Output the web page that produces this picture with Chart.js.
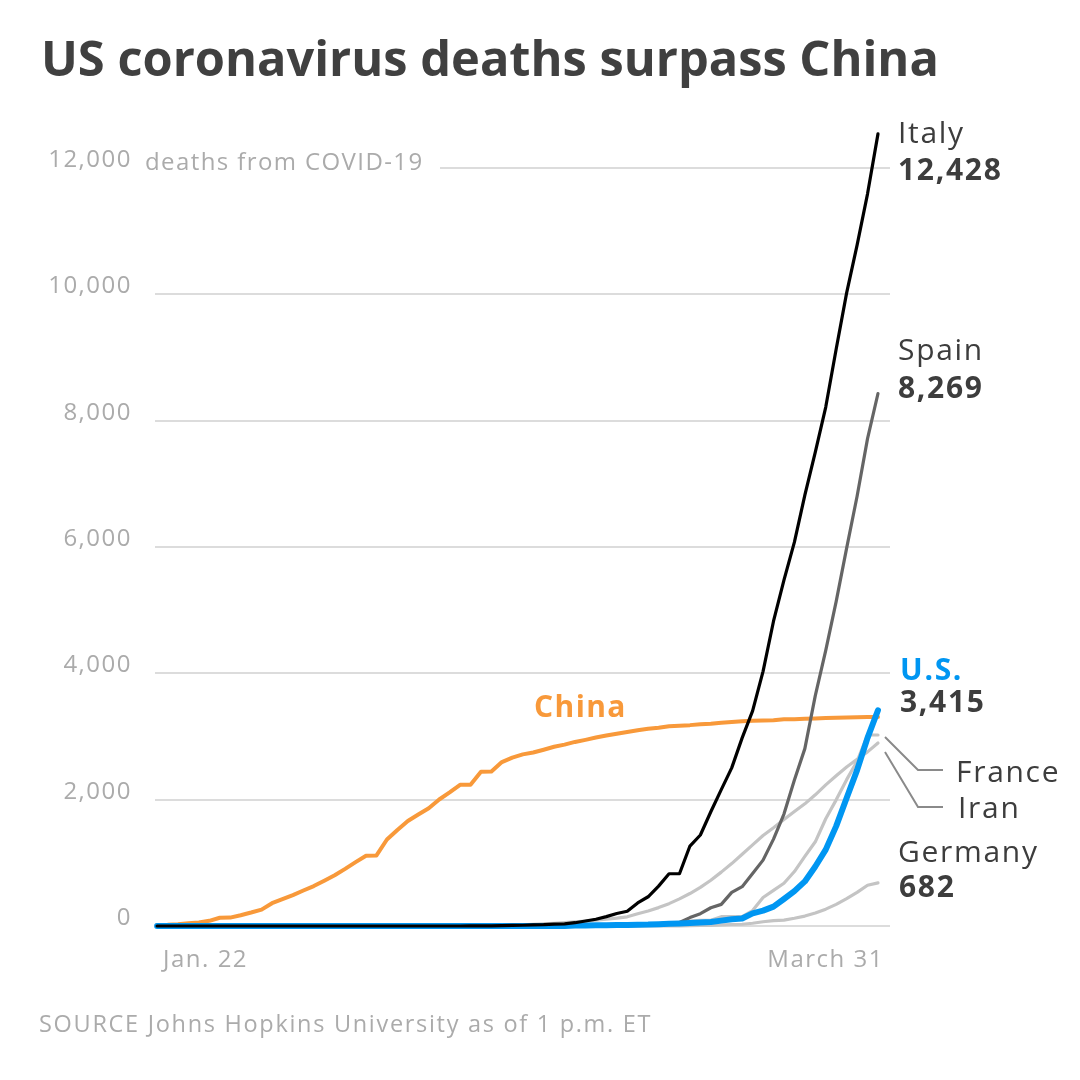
<!DOCTYPE html>
<html>
<head>
<meta charset="utf-8">
<script src="https://cdn.jsdelivr.net/npm/chart.js@4.4.1/dist/chart.umd.min.js"></script>
<style>
html,body{margin:0;padding:0;background:#ffffff;}
#wrap{width:1080px;height:1080px;position:relative;}
</style>
</head>
<body>
<div id="wrap"><canvas id="c" width="1080" height="1080"></canvas></div>
<script>
// ---- categories (days, Jan 22 .. Mar 31) ----
const dates = [
 "1/22","1/23","1/24","1/25","1/26","1/27","1/28","1/29","1/30","1/31",
 "2/1","2/2","2/3","2/4","2/5","2/6","2/7","2/8","2/9","2/10",
 "2/11","2/12","2/13","2/14","2/15","2/16","2/17","2/18","2/19","2/20",
 "2/21","2/22","2/23","2/24","2/25","2/26","2/27","2/28","2/29",
 "3/1","3/2","3/3","3/4","3/5","3/6","3/7","3/8","3/9","3/10",
 "3/11","3/12","3/13","3/14","3/15","3/16","3/17","3/18","3/19","3/20",
 "3/21","3/22","3/23","3/24","3/25","3/26","3/27","3/28","3/29","3/30","3/31"
];
const xTickLabels = ["Jan. 22", "March 31"];
const yTickLabels = ["0", "2,000", "4,000", "6,000", "8,000", "10,000", "12,000"];

// ---- series (cumulative deaths) ----
const china = [
 17,18,26,42,56,82,131,133,171,213,
 259,361,425,490,562,632,717,804,904,1011,
 1112,1117,1369,1521,1663,1766,1864,2003,2116,2236,
 2238,2443,2445,2595,2665,2717,2746,2790,2837,2872,
 2914,2947,2983,3015,3044,3072,3100,3123,3139,3161,
 3172,3180,3193,3203,3217,3230,3241,3249,3253,3259,
 3274,3274,3281,3285,3291,3296,3299,3304,3308,3309
];
const italy = [
 0,0,0,0,0,0,0,0,0,0,
 0,0,0,0,0,0,0,0,0,0,
 0,0,0,0,0,0,0,0,0,0,
 1,2,3,7,10,12,17,21,29,34,
 52,79,107,148,197,233,366,463,631,827,
 827,1266,1441,1809,2158,2503,2978,3405,4032,4825,
 5476,6077,6820,7503,8215,9134,10023,10779,11591,12540
];
const spain = [
 0,0,0,0,0,0,0,0,0,0,
 0,0,0,0,0,0,0,0,0,0,
 0,0,0,0,0,0,0,0,0,0,
 0,0,0,0,0,0,0,0,0,0,
 0,1,2,3,5,10,17,28,35,54,
 55,133,195,289,342,533,623,830,1043,1375,
 1772,2311,2808,3647,4365,5138,5982,6803,7716,8430
];
const us = [
 0,0,0,0,0,0,0,0,0,0,
 0,0,0,0,0,0,0,0,0,0,
 0,0,0,0,0,0,0,0,0,0,
 0,0,0,0,0,0,0,0,1,1,
 6,7,11,12,14,17,21,22,28,36,
 40,47,54,63,85,108,118,200,244,307,
 427,552,706,942,1209,1581,2026,2467,2978,3415
];
const france = [
 0,0,0,0,0,0,0,0,0,0,
 0,0,0,0,0,0,0,0,0,0,
 0,0,0,0,0,1,1,1,1,1,
 1,1,1,1,1,2,2,2,2,2,
 3,4,4,6,9,11,19,19,33,48,
 48,79,91,91,148,149,149,244,451,563,
 676,862,1102,1333,1698,1997,2317,2606,3024,3024
];
const iran = [
 0,0,0,0,0,0,0,0,0,0,
 0,0,0,0,0,0,0,0,0,0,
 0,0,0,0,0,0,0,0,2,2,
 4,5,8,12,16,19,26,34,43,54,
 66,77,92,107,124,145,194,237,291,354,
 429,514,611,724,853,988,1135,1284,1433,1556,
 1685,1812,1934,2077,2234,2378,2517,2640,2757,2898
];
const germany = [
 0,0,0,0,0,0,0,0,0,0,
 0,0,0,0,0,0,0,0,0,0,
 0,0,0,0,0,0,0,0,0,0,
 0,0,0,0,0,0,0,0,0,0,
 0,0,0,0,0,0,0,2,2,3,
 3,7,9,11,17,24,28,44,67,84,
 94,123,157,206,267,342,433,533,645,682
];

const FAMILY = "'Open Sans', 'Noto Sans', sans-serif";
const GRID = '#dcdcdc';
const TICK = '#ababab';
const DARK = '#3d3d3d';

const seriesDefs = [
 {name:'Italy',   values: italy,   color:'#000000', width:3.2, order:0},
 {name:'U.S.',    values: us,      color:'#0096f2', width:6,   order:1},
 {name:'Spain',   values: spain,   color:'#656565', width:3.2, order:2},
 {name:'China',   values: china,   color:'#f8993a', width:4,   order:3},
 {name:'France',  values: france,  color:'#c4c4c4', width:3.2, order:4},
 {name:'Iran',    values: iran,    color:'#c4c4c4', width:3.2, order:5},
 {name:'Germany', values: germany, color:'#c4c4c4', width:3.2, order:6}
];

const textPlugin = {
  id: 'annotText',
  beforeDraw(chart) {
    chart.ctx.letterSpacing = '1.5px';
  },
  beforeDatasetsDraw(chart) {
    const {ctx, chartArea, scales:{y}} = chart;
    const yy = y.getPixelForValue(12000);
    ctx.save();
    ctx.strokeStyle = GRID; ctx.lineWidth = 2;
    ctx.beginPath(); ctx.moveTo(440, yy); ctx.lineTo(chartArea.right, yy); ctx.stroke();
    ctx.restore();
  },
  afterDraw(chart) {
    const {ctx} = chart;
    ctx.save();
    ctx.textBaseline = 'alphabetic';
    ctx.textAlign = 'left';
    // title
    const title = 'US coronavirus deaths surpass China';
    ctx.letterSpacing = '0px';
    let size = 50;
    ctx.font = `700 ${size}px ${FAMILY}`;
    let w = ctx.measureText(title).width;
    size = Math.min(54, size * 898 / w);
    ctx.font = `700 ${size}px ${FAMILY}`;
    ctx.fillStyle = '#404040';
    ctx.fillText(title, 41, 76);

    // unit label
    ctx.letterSpacing = '1.4px';
    ctx.font = `400 24px ${FAMILY}`;
    ctx.fillStyle = TICK;
    ctx.fillText('deaths from COVID-19', 145, 170);

    // source
    ctx.letterSpacing = '1.7px';
    ctx.font = `400 23.5px ${FAMILY}`;
    ctx.fillStyle = TICK;
    ctx.fillText('SOURCE Johns Hopkins University as of 1 p.m. ET', 39, 1032);

    // series labels
    ctx.letterSpacing = '1.7px';
    const reg = `400 30px ${FAMILY}`, bold = `700 30px ${FAMILY}`;
    const lx = 898;
    ctx.fillStyle = DARK;
    ctx.font = reg;  ctx.fillText('Italy', lx, 143);
    ctx.font = bold; ctx.fillText('12,428', lx, 180);
    ctx.font = reg;  ctx.fillText('Spain', lx, 360);
    ctx.font = bold; ctx.fillText('8,269', lx, 398);
    ctx.fillStyle = '#0096f2';
    ctx.font = bold; ctx.fillText('U.S.', lx + 2, 680);
    ctx.fillStyle = DARK;
    ctx.font = bold; ctx.fillText('3,415', lx + 2, 712);
    ctx.font = reg;  ctx.fillText('France', 956, 782);
    ctx.font = reg;  ctx.fillText('Iran', 958, 818);
    ctx.font = reg;  ctx.fillText('Germany', lx, 862);
    ctx.font = bold; ctx.fillText('682', lx + 1, 897);
    ctx.fillStyle = '#f8993a';
    ctx.letterSpacing = '1.4px';
    ctx.font = bold; ctx.fillText('China', 534, 717);

    // connector lines France / Iran
    ctx.strokeStyle = '#8a8a8a'; ctx.lineWidth = 2;
    ctx.beginPath();
    ctx.moveTo(885, 737); ctx.lineTo(918, 770); ctx.lineTo(943, 770);
    ctx.moveTo(885, 752); ctx.lineTo(918, 807); ctx.lineTo(943, 807);
    ctx.stroke();
    ctx.restore();
  }
};

new Chart(document.getElementById('c'), {
  type: 'line',
  data: {
    labels: dates,
    datasets: seriesDefs.map(s => ({
      label: s.name,
      data: s.values.map((v, i) => ({x: i, y: v})),
      borderColor: s.color,
      backgroundColor: s.color,
      borderWidth: s.width,
      order: s.order,
      pointRadius: 0,
      pointHoverRadius: 0,
      fill: false,
      tension: 0,
      clip: false,
      borderCapStyle: 'round',
      borderJoinStyle: 'round'
    }))
  },
  options: {
    responsive: false,
    animation: false,
    devicePixelRatio: 1,
    layout: {padding: {top: 168, right: 190, left: 0, bottom: 0}},
    plugins: {legend: {display: false}, tooltip: {enabled: false}},
    scales: {
      x: {
        type: 'linear',
        min: -0.2,
        max: 70.15,
        grid: {display: false},
        border: {display: false},
        afterBuildTicks: s => { s.ticks = [{value: 0}, {value: dates.length - 1}]; },
        afterFit: s => { s.height = 154; },
        ticks: {
          align: 'inner',
          labelOffset: 6,
          padding: 12,
          maxRotation: 0,
          autoSkip: false,
          color: TICK,
          font: {family: FAMILY, size: 24},
          callback: (v) => (v === 0 ? xTickLabels[0] : xTickLabels[1])
        }
      },
      y: {
        min: 0,
        max: 12000,
        afterFit: s => { s.width = 155; },
        border: {display: false},
        grid: {
          color: c => (c.tick && c.tick.value === 12000 ? 'rgba(0,0,0,0)' : GRID),
          lineWidth: 2,
          drawTicks: false
        },
        ticks: {
          stepSize: 2000,
          padding: 23,
          labelOffset: -8,
          color: TICK,
          font: {family: FAMILY, size: 24},
          callback: (v) => yTickLabels[Math.round(v / 2000)]
        }
      }
    }
  },
  plugins: [textPlugin]
});
</script>
</body>
</html>
